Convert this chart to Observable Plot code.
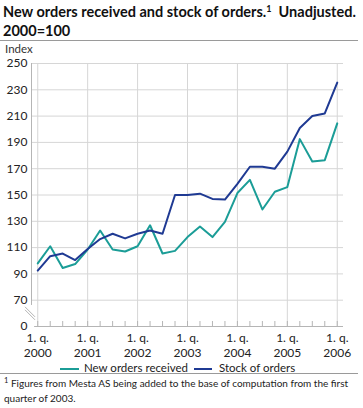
<!DOCTYPE html>
<html>
<head>
<meta charset="utf-8">
<script src="https://cdn.jsdelivr.net/npm/d3@7"></script>
<script src="https://cdn.jsdelivr.net/npm/@observablehq/plot@0.6"></script>
<style>
  html, body { margin: 0; padding: 0; background: #fff; }
  body { width: 363px; height: 408px; position: relative; overflow: hidden; font-family: Lato, sans-serif; color: #222; }
  .abs { position: absolute; white-space: nowrap; }
  #title { left: 3px; top: 3px; font-weight: bold; font-size: 14.5px; line-height: 17px; color: #111; }
  #title sup { font-size: 9px; vertical-align: 0; position: relative; top: -5px; }
  .rule { position: absolute; left: 0; width: 358px; height: 0; border-top: 1px solid #9a9a9a; }
  #index { left: 5px; top: 42px; font-size: 11.5px; color: #333; }
  #chart { position: absolute; left: 0; top: 41px; }
  .leg { font-size: 11.5px; color: #222; top: 361px; }
  .legline { position: absolute; height: 0; top: 368px; border-top: 2.5px solid; }
  #foot { left: 4px; top: 377px; font-size: 10px; line-height: 12.5px; color: #222; }
  #foot sup { font-size: 7.5px; vertical-align: 0; position: relative; top: -4px; }
</style>
</head>
<body>
<div id="title" class="abs">New orders received and stock of orders.<sup>1</sup>&nbsp; Unadjusted.<br>2000=100</div>
<div class="rule" style="top:40px"></div>
<div id="index" class="abs">Index</div>
<div id="chart"></div>
<div class="legline" style="left:60px;width:19px;border-color:#1b9d97"></div>
<div class="abs leg" style="left:84px">New orders received</div>
<div class="legline" style="left:194px;width:18px;border-color:#1f3a93"></div>
<div class="abs leg" style="left:219px">Stock of orders</div>
<div class="rule" style="top:373px"></div>
<div id="foot" class="abs"><sup>1</sup> Figures from Mesta AS being added to the base of computation from the first<br>quarter of 2003.</div>
<script>
// Quarters: 1. q. 2000 ... 1. q. 2006
const quarterIndex = d3.range(0, 25);
const yearTickIndex = [0, 4, 8, 12, 16, 20, 24];
const yearLabels = ["2000", "2001", "2002", "2003", "2004", "2005", "2006"];
const yTicks = [50, 70, 90, 110, 130, 150, 170, 190, 210, 230, 250];
const yGrid = [70, 90, 110, 130, 150, 170, 190, 210, 230, 250];

const newOrders = [98, 111, 94.5, 97.5, 108.5, 123, 108.5, 107, 111, 127, 105.5, 107.5,
  118, 126, 118, 129.5, 151.5, 161.5, 139, 152.5, 156, 192.5, 175.5, 176.5, 204.5];
const stockOfOrders = [92.5, 103.5, 105.5, 100.5, 109, 116.5, 120.5, 117, 120.5, 123, 120.5, 150,
  150, 151, 147, 146.5, 158.5, 171.5, 171.5, 170, 183, 201, 210, 212, 235.5];

const colNew = "#1b9d97";
const colStock = "#1f3a93";
const gridCol = "#d6d6d6";

const newData = newOrders.map((v, i) => ({i, v}));
const stockData = stockOfOrders.map((v, i) => ({i, v}));
const xLabels = yearTickIndex.map((i, k) => ({i, label: "1. q.\n" + yearLabels[k]}));

const plot = Plot.plot({
  width: 363,
  height: 320,
  marginTop: 22,
  marginBottom: 35,
  marginLeft: 31,
  marginRight: 20,
  style: {fontFamily: "Lato, sans-serif", fontSize: "12px", color: "#222", background: "transparent"},
  x: {domain: [-0.5, 24.5], axis: null},
  y: {domain: [50, 250]},
  marks: [
    Plot.ruleY(yGrid, {stroke: gridCol, strokeWidth: 1}),
    Plot.ruleX(yearTickIndex, {stroke: gridCol, strokeWidth: 1}),
    Plot.ruleY([50], {x1: -0.25, x2: 24.5, stroke: "#b5b5b5"}),
    Plot.ruleX(quarterIndex, {x: d => d, y1: 50, y2: 50, insetTop: -5, stroke: "#b5b5b5"}),
    Plot.ruleX([-0.5], {y1: 66, y2: 250, stroke: "#b5b5b5"}),
    Plot.axisY({ticks: yTicks, tickSize: 0, tickPadding: 4, tickFormat: d => d === 50 ? "0" : String(d), label: null, fill: "#222"}),
    Plot.text(xLabels, {x: "i", y: 50, text: "label", dy: 5, lineAnchor: "top", lineHeight: 1.25, fill: "#222"}),
    Plot.line(newData, {x: "i", y: "v", stroke: colNew, strokeWidth: 2}),
    Plot.line(stockData, {x: "i", y: "v", stroke: colStock, strokeWidth: 2})
  ]
});
document.getElementById("chart").appendChild(plot);

// axis break marks
const sx = plot.scale("x"), sy = plot.scale("y");
const bx = sx.apply(-0.5), by = sy.apply(60);
const svg = d3.select(plot);
[0, 3].forEach(off => {
  svg.append("line")
    .attr("x1", bx - 6).attr("y1", by - 6 + off)
    .attr("x2", bx + 4).attr("y2", by + 4 + off)
    .attr("stroke", "#b5b5b5").attr("stroke-width", 1);
});
</script>
</body>
</html>
